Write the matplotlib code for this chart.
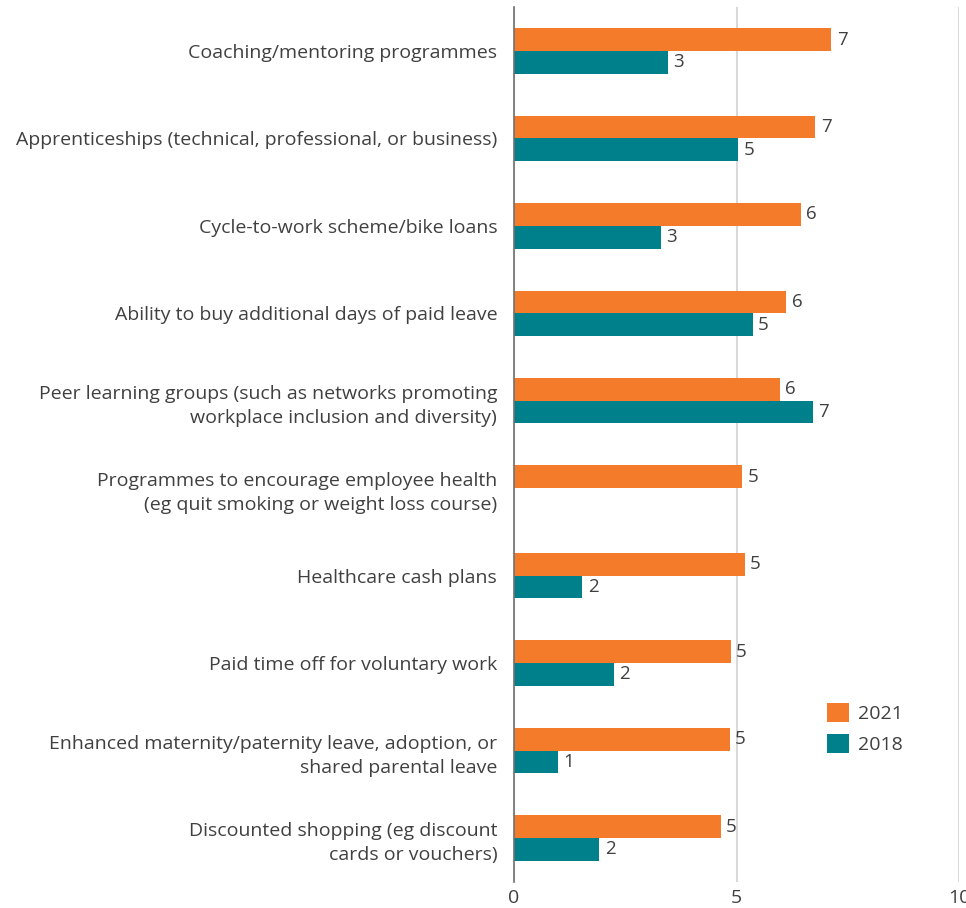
import numpy as np
import matplotlib.pyplot as plt

plt.rcParams['font.family'] = ['Open Sans', 'DejaVu Sans']

categories = [
    "Coaching/mentoring programmes",
    "Apprenticeships (technical, professional, or business)",
    "Cycle-to-work scheme/bike loans",
    "Ability to buy additional days of paid leave",
    "Peer learning groups (such as networks promoting\nworkplace inclusion and diversity)",
    "Programmes to encourage employee health\n(eg quit smoking or weight loss course)",
    "Healthcare cash plans",
    "Paid time off for voluntary work",
    "Enhanced maternity/paternity leave, adoption, or\nshared parental leave",
    "Discounted shopping (eg discount\ncards or vouchers)",
]
values_2021 = [7.13, 6.77, 6.44, 6.12, 5.97, 5.12, 5.18, 4.87, 4.85, 4.64]
values_2018 = [3.46, 5.03, 3.30, 5.36, 6.72, np.nan, 1.54, 2.25, 1.00, 1.92]

c2021 = '#F47B2A'
c2018 = '#00808A'
text_col = '#404040'

fig = plt.figure(figsize=(9.66, 9.08), dpi=100)
ax = fig.add_axes([0.532, 0.029, 0.461, 0.963])

y = np.arange(len(categories))
h = 0.26
ax.barh(y - h / 2, values_2021, height=h, color=c2021, label='2021', zorder=3)
ax.barh(y + h / 2, values_2018, height=h, color=c2018, label='2018', zorder=3)

for yi, v in zip(y, values_2021):
    ax.text(v + 0.12, yi - h / 2, f"{v:.0f}", va='center', ha='left',
            fontsize=13.5, color=text_col)
for yi, v in zip(y, values_2018):
    if not np.isnan(v):
        ax.text(v + 0.12, yi + h / 2, f"{v:.0f}", va='center', ha='left',
                fontsize=13.5, color=text_col)

ax.set_ylim(len(categories) - 0.5, -0.5)
ax.set_xlim(0, 10)
ax.set_yticks(y)
ax.set_yticklabels(categories, fontsize=14, color=text_col, linespacing=1.45)
ax.set_xticks([0, 5, 10])
ax.set_xticklabels(['0', '5', '10'], fontsize=14, color=text_col)
ax.tick_params(axis='both', length=0)
ax.tick_params(axis='y', pad=12)
ax.tick_params(axis='x', pad=5)

ax.grid(axis='x', color='#d9d9d9', linewidth=1.5, zorder=0)
for s in ['top', 'right', 'bottom']:
    ax.spines[s].set_visible(False)
ax.spines['left'].set_color('#707070')
ax.spines['left'].set_linewidth(1.2)
ax.spines['left'].set_zorder(4)

ax.legend(loc='lower left', bbox_to_anchor=(0.703, 0.146), frameon=False,
          borderaxespad=0, borderpad=0,
          fontsize=14, labelcolor=text_col, handlelength=1.15, handleheight=1.15,
          handletextpad=0.45, labelspacing=0.55)

fig.savefig('out.png', dpi=100)
